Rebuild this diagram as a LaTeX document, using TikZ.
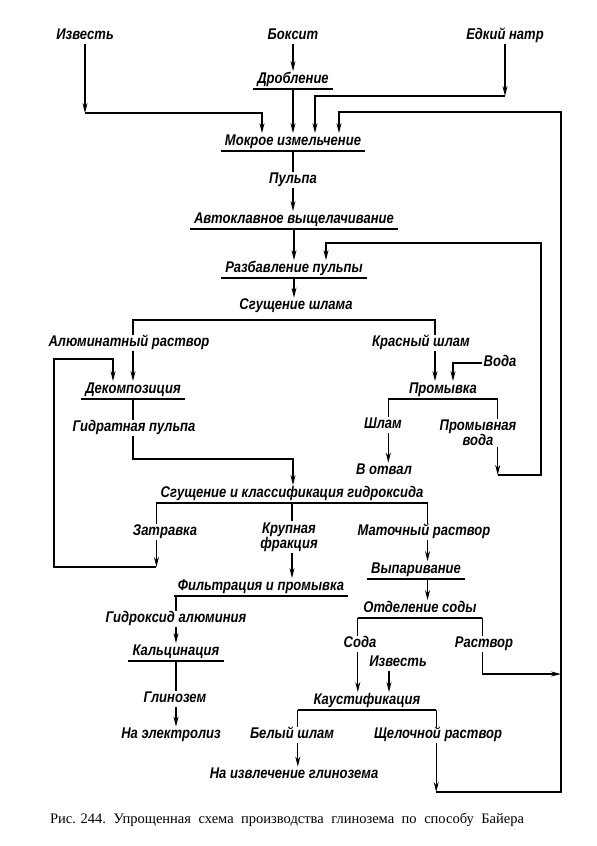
\documentclass[tikz,border=0pt]{standalone}
\usepackage{fontspec}
\setmainfont{Liberation Serif}
\newfontfamily\engfont[FakeStretch=0.84]{Liberation Sans}
\usetikzlibrary{arrows.meta}
\begin{document}
\begin{tikzpicture}[x=1pt,y=-1pt,
 lbl/.style={font=\engfont\bfseries\itshape\fontsize{15.5}{15}\selectfont, inner xsep=1pt, inner ysep=1pt, text height=11pt, text depth=3.5pt},
 lbltwo/.style={font=\engfont\bfseries\itshape\fontsize{15.5}{15}\selectfont, inner sep=1pt, align=center},
 proc/.style={lbl, inner xsep=4pt, inner ysep=1.5pt, append after command={(\tikzlastnode.south west) edge[uline] (\tikzlastnode.south east)}},
 uline/.style={line width=2.2pt},
 ln/.style={line width=1.1pt},
 arr/.style={ln, -{Stealth[length=10pt,width=5pt]}},
 captxt/.style={font=\fontsize{14.5}{16}\selectfont, inner sep=0pt}
]
\useasboundingbox (0,0) rectangle (597,846);
\node[lbl] (izv) at (85,36) {Известь};
\node[lbl] (box) at (293,36) {Боксит};
\node[lbl] (edk) at (505,36) {Едкий натр};
\node[proc] (drob) at (293,80) {Дробление};
\node[proc] (mokr) at (293,142) {Мокрое измельчение};
\node[lbl] (pulp) at (293,180) {Пульпа};
\node[proc] (avto) at (294,220) {Автоклавное выщелачивание};
\node[proc] (razb) at (294,269) {Разбавление пульпы};
\node[lbl] (sgsh) at (296,306) {Сгущение шлама};
\node[lbl] (alum) at (129,343) {Алюминатный раствор};
\node[lbl] (kras) at (421,343) {Красный шлам};
\node[lbl] (voda) at (500,363) {Вода};
\node[proc] (deko) at (133,390) {Декомпозиция};
\node[proc, minimum width=109pt] (prom) at (443,390) {Промывка};
\node[lbl] (gidr) at (134,428) {Гидратная пульпа};
\node[lbl] (shlam) at (383,425) {Шлам};
\node[lbltwo] (promv) at (478,433) {Промывная\\вода};
\node[lbl] (otval) at (384,471) {В отвал};
\node[proc, minimum width=253pt] (sgkl) at (292,494) {Сгущение и классификация гидроксида};
\node[lbl] (zatr) at (165,532) {Затравка};
\node[lbltwo] (krup) at (289,537) {Крупная\\фракция};
\node[lbl] (mato) at (424,532) {Маточный раствор};
\node[proc] (filt) at (261,587) {Фильтрация и промывка};
\node[proc] (vypa) at (416,570) {Выпаривание};
\node[proc, minimum width=124pt] (otde) at (420,609) {Отделение соды};
\node[lbl] (gidrox) at (176,619) {Гидроксид алюминия};
\node[lbl] (soda) at (360,644) {Сода};
\node[lbl] (rast) at (484,644) {Раствор};
\node[proc] (kalc) at (176,652) {Кальцинация};
\node[lbl] (izv2) at (398,663) {Известь};
\node[proc, minimum width=138pt] (kaus) at (367,701) {Каустификация};
\node[lbl] (glin) at (175,699) {Глинозем};
\node[lbl] (elek) at (171,735) {На электролиз};
\node[lbl] (bel) at (292,735) {Белый шлам};
\node[lbl] (shel) at (438,735) {Щелочной раствор};
\node[lbl] (izvl) at (294,775) {На извлечение глинозема};
\node[captxt] (capt) at (287,820) {\makebox[474pt][s]{\mbox{Рис. 244.} Упрощенная схема производства глинозема по способу Байера}};
% bend points
\coordinate (i1) at (85,113);
\coordinate (i2) at (262,113);
\coordinate (e1) at (505,96);
\coordinate (e2) at (315,96);
\coordinate (r1) at (561,112);
\coordinate (r2) at (339,112);
\coordinate (r3) at (561,792);
\coordinate (l1) at (541,243);
\coordinate (l2) at (326,243);
\coordinate (l3) at (541,475);
\coordinate (b1) at (133,320);
\coordinate (b2) at (435,320);
\coordinate (w1) at (453,364);
\coordinate (z1) at (54,567);
\coordinate (z2) at (54,359);
\coordinate (z3) at (113,359);
\coordinate (g1) at (133,459);
\coordinate (g2) at (293,459);
\coordinate (t1) at (482,674);
\coordinate (f1) at (389,663);
% connectors
\draw[arr] (izv.south) -- (i1);
\draw[arr] (i1) -- (i2) -- (i2 |- mokr.north);
\draw[arr] (box.south) -- (box.south |- drob.north);
\draw[arr] (drob.south) -- (drob.south |- mokr.north);
\draw[arr] (edk.south) -- (e1);
\draw[arr] (e1) -- (e2) -- (e2 |- mokr.north);
\draw[ln] (kaus.south east) -- (kaus.south east |- shel.north);
\draw[arr] (kaus.south east |- shel.south) -- (kaus.south east |- r3);
\draw[arr] (kaus.south east |- r3) -- (r3) -- (r1) -- (r2) -- (r2 |- mokr.north);
\draw[ln] (mokr.south) -- (mokr.south |- pulp.north);
\draw[arr] (pulp.south) -- (pulp.south |- avto.north);
\draw[arr] (avto.south) -- (avto.south |- razb.north);
\draw[arr] (razb.south) -- (razb.south |- sgsh.north);
\draw[ln] (prom.south east) -- (prom.south east |- promv.north);
\draw[arr] (prom.south east |- promv.south) -- (prom.south east |- l3);
\draw[arr] (prom.south east |- l3) -- (l3) -- (l1) -- (l2) -- (l2 |- razb.north);
\draw[ln] (b1 |- alum.north) -- (b1) -- (b2) -- (b2 |- kras.north);
\draw[arr] (b1 |- alum.south) -- (b1 |- deko.north);
\draw[arr] (b2 |- kras.south) -- (b2 |- prom.north);
\draw[arr] (voda.west) -| (w1 |- prom.north);
\draw[ln] (prom.south west) -- (prom.south west |- shlam.north);
\draw[arr] (prom.south west |- shlam.south) -- (prom.south west |- otval.north);
\draw[ln] (deko.south) -- (deko.south |- gidr.north);
\draw[arr] (deko.south |- gidr.south) -- (deko.south |- g1) -- (g2) -- (g2 |- sgkl.north);
\draw[ln] (sgkl.south west) -- (sgkl.south west |- zatr.north);
\draw[arr] (sgkl.south west |- zatr.south) -- (sgkl.south west |- z1);
\draw[arr] (sgkl.south west |- z1) -- (z1) -- (z2) -- (z3) -- (z3 |- deko.north);
\draw[ln] (sgkl.south) -- (sgkl.south |- krup.north);
\draw[arr] (sgkl.south |- krup.south) -- (sgkl.south |- filt.north);
\draw[ln] (sgkl.south east) -- (sgkl.south east |- mato.north);
\draw[arr] (sgkl.south east |- mato.south) -- (sgkl.south east |- vypa.north);
\draw[arr] (sgkl.south east |- vypa.south) -- (sgkl.south east |- otde.north);
\draw[ln] (gidrox.north |- filt.south) -- (gidrox.north);
\draw[arr] (gidrox.south) -- (gidrox.south |- kalc.north);
\draw[ln] (kalc.south) -- (kalc.south |- glin.north);
\draw[arr] (kalc.south |- glin.south) -- (kalc.south |- elek.north);
\draw[ln] (otde.south west) -- (otde.south west |- soda.north);
\draw[arr] (otde.south west |- soda.south) -- (otde.south west |- kaus.north);
\draw[ln] (otde.south east) -- (otde.south east |- rast.north);
\draw[arr] (otde.south east |- rast.south) -- (otde.south east |- t1) -- (r1 |- t1);
\draw[arr] (izv2.south -| f1) -- (f1 |- kaus.north);
\draw[ln] (kaus.south west) -- (kaus.south west |- bel.north);
\draw[arr] (kaus.south west |- bel.south) -- (kaus.south west |- izvl.north);
\end{tikzpicture}
\end{document}
